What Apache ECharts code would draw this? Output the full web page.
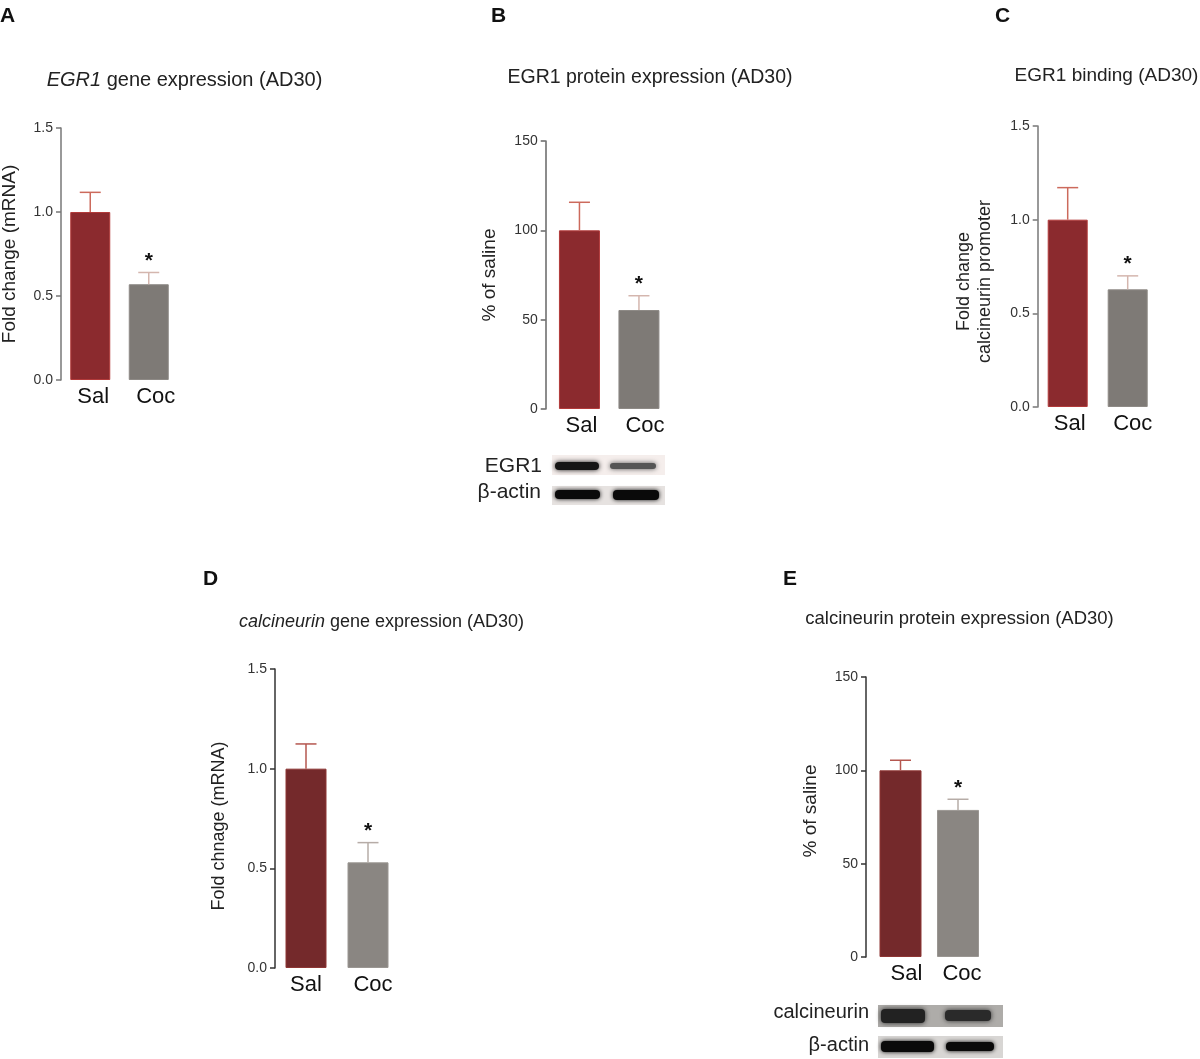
<!DOCTYPE html>
<html><head><meta charset="utf-8">
<script src="https://cdn.jsdelivr.net/npm/echarts@6/dist/echarts.min.js"></script>
<style>html,body{margin:0;padding:0;background:#fff}#c{width:1200px;height:1059px}</style>
</head><body><div id="c"></div>
<script>
// ---------- data ----------
const categories = ['Sal', 'Coc'];
const signif = ['', '*'];
const foldTicks = [0, 0.5, 1.0, 1.5];
const pctTicks = [0, 50, 100, 150];
// A: EGR1 gene expression (fold change mRNA)
const aMeans = [1.0, 0.57];
const aSem = [0.117, 0.07];
// B: EGR1 protein expression (% of saline)
const bMeans = [100, 55.4];
const bSem = [15.7, 8.0];
// C: EGR1 binding, calcineurin promoter (fold change)
const cMeans = [1.0, 0.628];
const cSem = [0.171, 0.072];
// D: calcineurin gene expression (fold change mRNA)
const dMeans = [1.0, 0.53];
const dSem = [0.124, 0.099];
// E: calcineurin protein expression (% of saline)
const eMeans = [100, 78.8];
const eSem = [5.4, 5.7];

// ---------- layout / style ----------
const FONT = 'Liberation Sans, Arial, Helvetica, sans-serif';
const panels = [
  { means: aMeans, sem: aSem, ticks: foldTicks, dec: 1, name: 'Fold change (mRNA)',
    grid: { left: 61, top: 128, width: 117, height: 252 }, off: 0, bw: 40, gap: 41, pad: [0,0,0,0], nfs: 19,
    shift: [3, 7], axisCol: '#777',
    fill: ['#8b2a2e', '#7e7a76'], border: ['#b23a3a', '#8e8a86'], err: ['#cc6a5c', '#d4b6ae'] },
  { means: bMeans, sem: bSem, ticks: pctTicks, dec: 0, name: '% of saline',
    grid: { left: 549.7, top: 141, width: 119, height: 268 }, off: 4, bw: 41, gap: 45, pad: [0,0,0,0], nfs: 19,
    shift: [2, 6], axisCol: '#666',
    fill: ['#8b2a2e', '#7e7a76'], border: ['#b23a3a', '#8e8a86'], err: ['#cc6a5c', '#d4b6ae'] },
  { means: cMeans, sem: cSem, ticks: foldTicks, dec: 1, name: 'Fold change\ncalcineurin promoter',
    grid: { left: 1037.7, top: 126, width: 120, height: 281 }, off: 0, bw: 40, gap: 42, pad: [0,30,0,0], nfs: 18,
    shift: [2, 5], axisCol: '#777',
    fill: ['#8b2a2e', '#7e7a76'], border: ['#b23a3a', '#8e8a86'], err: ['#cc6a5c', '#d4b6ae'] },
  { means: dMeans, sem: dSem, ticks: foldTicks, dec: 1, name: 'Fold chnage (mRNA)',
    grid: { left: 275, top: 669, width: 124, height: 299 }, off: 0, bw: 41, gap: 45, pad: [0,15,0,0], nfs: 18,
    shift: [0, 5], axisCol: '#333',
    fill: ['#74292b', '#8a8682'], border: ['#8e3634', '#9a9692'], err: ['#b5574f', '#b6aca7'] },
  { means: eMeans, sem: eSem, ticks: pctTicks, dec: 0, name: '% of saline',
    grid: { left: 871.75, top: 677, width: 115, height: 280 }, off: 5.75, bw: 42, gap: 44.75, pad: [0,0,0,12], nfs: 19,
    shift: [6, 4], axisCol: '#333',
    fill: ['#74292b', '#8a8682'], border: ['#8e3634', '#9a9692'], err: ['#b5574f', '#b6aca7'] }
];

const grids = [], xAxes = [], yAxes = [], series = [];
panels.forEach((p, k) => {
  grids.push(Object.assign({ containLabel: false, outerBoundsMode: 'none' }, p.grid));
  const lblBase = { fontSize: 22, color: '#111', fontFamily: FONT };
  xAxes.push({
    type: 'category', gridIndex: k, data: categories,
    axisLine: { show: false }, axisTick: { show: false },
    axisLabel: { interval: 0, hideOverlap: false, fontSize: 22, color: '#111', fontFamily: FONT, margin: 6,
      formatter: (v, i) => '{s' + i + '|' + v + '}',
      rich: {
        s0: Object.assign({ padding: [0, 0, 0, 2 * p.shift[0]] }, lblBase),
        s1: Object.assign({ padding: [0, 0, 0, 2 * p.shift[1]] }, lblBase)
      } }
  });
  const tmax = p.ticks[p.ticks.length - 1];
  yAxes.push({
    type: 'value', gridIndex: k, min: p.ticks[0], max: tmax, interval: p.ticks[1] - p.ticks[0],
    offset: p.off, splitLine: { show: false },
    axisLine: { show: true, lineStyle: { color: p.axisCol, width: 1.5 } },
    axisTick: { show: true, length: 5, lineStyle: { color: p.axisCol, width: 1.5 } },
    axisLabel: { fontSize: 14, color: '#333', fontFamily: FONT, margin: 8,
      formatter: v => v.toFixed(p.dec) },
    name: p.name, nameLocation: 'middle', nameRotate: 90, nameGap: p.gap,
    nameTextStyle: { fontSize: p.nfs, color: '#222', fontFamily: FONT, lineHeight: 21, padding: p.pad }
  });
  series.push({
    type: 'bar', xAxisIndex: k, yAxisIndex: k, barWidth: p.bw, z: 2,
    data: p.means.map((m, i) => ({ value: m,
      itemStyle: { color: p.fill[i], borderColor: p.border[i], borderWidth: 1 } }))
  });
  series.push({
    type: 'custom', xAxisIndex: k, yAxisIndex: k, z: 3,
    data: p.means.map((m, i) => [i, m, p.sem[i]]),
    encode: { x: 0, y: 1 },
    renderItem: (params, api) => {
      const i = api.value(0);
      const base = api.coord([i, api.value(1)]);
      const top = api.coord([i, api.value(1) + api.value(2)]);
      const col = p.err[i];
      const children = [
        { type: 'line', shape: { x1: base[0], y1: base[1], x2: base[0], y2: top[1] },
          style: { stroke: col, lineWidth: 1.5 } },
        { type: 'line', shape: { x1: base[0] - 10.5, y1: top[1], x2: base[0] + 10.5, y2: top[1] },
          style: { stroke: col, lineWidth: 1.5 } }
      ];
      if (signif[i]) {
        children.push({ type: 'text', style: { text: signif[i], x: base[0], y: top[1] - 1,
          align: 'center', verticalAlign: 'bottom', fontSize: 21, fontWeight: 'bold',
          fill: '#111', fontFamily: FONT } });
      }
      return { type: 'group', children };
    }
  });
});

const titles = [
  { left: 184.5, top: 70, fs: 20, text: '{i|EGR1} gene expression (AD30)' },
  { left: 650, top: 68, fs: 19.5, text: 'EGR1 protein expression (AD30)' },
  { left: 1106.5, top: 66, fs: 19, text: 'EGR1 binding (AD30)' },
  { left: 381.5, top: 613, fs: 18, text: '{i|calcineurin} gene expression (AD30)' },
  { left: 959.5, top: 609, fs: 18.5, text: 'calcineurin protein expression (AD30)' }
].map(t => ({
  text: t.text, left: t.left, top: t.top, textAlign: 'center', padding: 0,
  textStyle: { fontSize: t.fs, fontWeight: 'normal', color: '#222', fontFamily: FONT,
    rich: { i: { fontStyle: 'italic', fontSize: t.fs, color: '#222', fontFamily: FONT } } }
}));

function letter(t, x, y) {
  return { type: 'text', left: x, top: y, style: { text: t, fontSize: 21, fontWeight: 'bold', fill: '#111', fontFamily: FONT } };
}
function label(t, right, cy, fs) {
  return { type: 'text', right: 1200 - right, top: cy - fs * 0.58, style: { text: t, fontSize: fs, fill: '#222', fontFamily: FONT } };
}
function rect(x, y, w, h, fill, blur, r) {
  return { type: 'rect', shape: { x, y, width: w, height: h, r: r || 0 },
    style: { fill, shadowBlur: blur || 0, shadowColor: fill } };
}
const graphics = [
  letter('A', 0, 6), letter('B', 491, 6), letter('C', 995, 6), letter('D', 203, 569), letter('E', 783, 569),
  // blot B
  label('EGR1', 542, 468, 21), label('β-actin', 541, 494, 21),
  rect(552, 455, 113, 20, '#f5eeec'), rect(555, 462, 44, 8, '#151515', 5, 4), rect(610, 463, 46, 6, '#555', 5, 3),
  rect(552, 486, 113, 19, '#e6e2e0'), rect(555, 490, 45, 9, '#0a0a0a', 4, 4), rect(613, 490, 46, 10, '#0a0a0a', 4, 4),
  // blot E
  label('calcineurin', 869, 1014, 20), label('β-actin', 869, 1047, 20),
  rect(878, 1005, 125, 22, '#aeaca9'), rect(881, 1009, 44, 14, '#222', 5, 4), rect(945, 1010, 46, 11, '#2a2a2a', 5, 4),
  rect(878, 1036, 125, 22, '#d8d6d4'), rect(881, 1041, 53, 11, '#0a0a0a', 4, 4), rect(946, 1042, 48, 9, '#0a0a0a', 4, 4)
];

const chart = echarts.init(document.getElementById('c'), null, { renderer: 'canvas' });
chart.setOption({
  animation: false, backgroundColor: '#fff',
  title: titles, grid: grids, xAxis: xAxes, yAxis: yAxes, series, graphic: graphics
});
</script></body></html>
